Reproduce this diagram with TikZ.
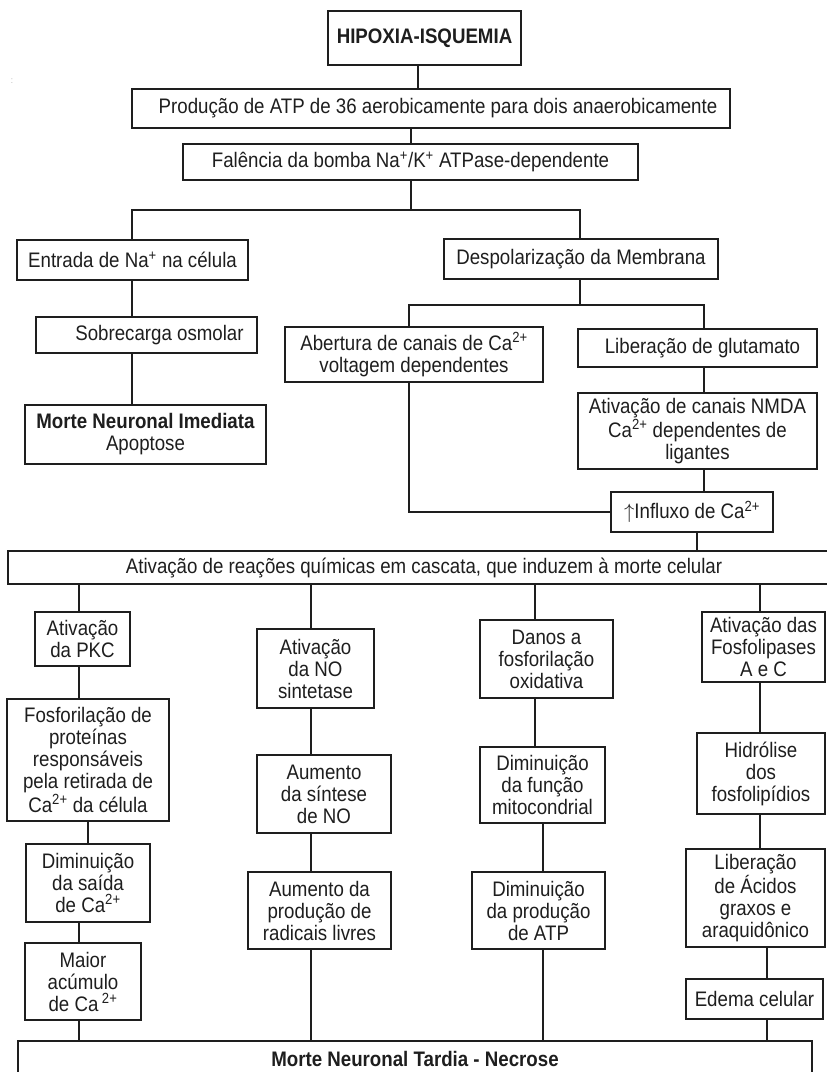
\documentclass[tikz,border=0pt]{standalone}
\usepackage{fontspec}
\setmainfont{Liberation Sans}[FakeStretch=0.89]
\definecolor{ink}{HTML}{1E1E1E}
% box given by its corners: name, x1, y1, x2, y2, text
\newcommand\bx[6]{\node[box, minimum width={(#4-#2)*1pt}, minimum height={(#5-#3)*1pt}] (#1) at ({(#2+#4)/2},{(#3+#5)/2}) {#6};}
\begin{document}
\begin{tikzpicture}[x=1pt,y=-1pt,
  box/.style={draw=ink, line width=1.4pt, inner sep=0pt, outer sep=0pt, align=center,
              text=ink, font=\fontsize{21}{22}\selectfont},
  link/.style={draw=ink, line width=1.2pt}]
\useasboundingbox (0,0) rectangle (827,1072);
\fill[white] (0,0) rectangle (827,1072);

\node[text=black!30, font=\fontsize{9}{9}\selectfont] (mark) at (12,81) {:};

% upper part
\bx{hip}{328}{11}{521}{65}{\textbf{HIPOXIA-ISQUEMIA}}
\bx{prod}{132}{89}{730}{128}{\hspace*{14pt}Produção de ATP de 36 aerobicamente para dois anaerobicamente}
\bx{fal}{183}{144}{638}{180}{Falência da bomba Na\textsuperscript{+}/K\textsuperscript{+} ATPase-dependente}
\bx{ent}{17}{240}{248}{280}{Entrada de Na\textsuperscript{+} na célula}
\bx{desp}{444}{239}{718}{279}{Despolarização da Membrana}
\bx{sob}{36}{317}{257}{353}{\hspace*{26pt}Sobrecarga osmolar}
\bx{mim}{25}{405}{266}{464}{\textbf{Morte Neuronal Imediata}\\Apoptose}
\bx{abe}{285}{327}{543}{382}{Abertura de canais de Ca\textsuperscript{2+}\\voltagem dependentes}
\bx{lib}{578}{329}{817}{367}{\hspace*{10pt}Liberação de glutamato}
\bx{nmda}{578}{393}{817}{469}{Ativação de canais NMDA\\Ca\textsuperscript{2+} dependentes de\\ligantes}
\bx{infl}{611}{492}{773}{532}{$\uparrow$Influxo de Ca\textsuperscript{2+}}
\bx{casc}{8}{551}{840}{584}{Ativação de reações químicas em cascata, que induzem à morte celular}

% four cascades
\bx{pkc}{35}{612}{130}{666}{Ativação\\da PKC}
\bx{fosf}{7}{699}{169}{821}{Fosforilação de\\proteínas\\responsáveis\\pela retirada de\\Ca\textsuperscript{2+} da célula}
\bx{dsai}{26}{844}{150}{922}{Diminuição\\da saída\\de Ca\textsuperscript{2+}}
\bx{mac}{25}{943}{141}{1020}{Maior\\acúmulo\\de Ca\,\textsuperscript{2+}}

\bx{nos}{257}{629}{374}{708}{Ativação\\da NO\\sintetase}
\bx{asin}{257}{755}{391}{833}{Aumento\\da síntese\\de NO}
\bx{arad}{248}{872}{391}{949}{Aumento da\\produção de\\radicais livres}

\bx{dan}{480}{620}{613}{698}{Danos a\\fosforilação\\oxidativa}
\bx{dmit}{480}{747}{605}{823}{Diminuição\\da função\\mitocondrial}
\bx{datp}{472}{872}{605}{949}{Diminuição\\da produção\\de ATP}

\bx{fosl}{702}{612}{825}{682}{Ativação das\\Fosfolipases\\A e C}
\bx{hid}{697}{733}{825}{814}{Hidrólise\\dos\\fosfolipídios}
\bx{lac}{686}{849}{825}{947}{Liberação\\de Ácidos\\graxos e\\araquidônico}
\bx{ede}{686}{979}{823}{1019}{Edema celular}

\bx{tard}{18}{1041}{812}{1077}{\textbf{Morte Neuronal Tardia - Necrose}}

% connector columns and junction rows
\coordinate (xA) at (418,0);
\coordinate (xB) at (411,0);
\coordinate (xL) at (132,0);
\coordinate (xR) at (580,0);
\coordinate (xab) at (409,0);
\coordinate (xlb) at (704,0);
\coordinate (xcs) at (697,0);
\coordinate (k1) at (79,0);
\coordinate (k1b) at (88,0);
\coordinate (k2) at (311,0);
\coordinate (k3) at (535,0);
\coordinate (k3b) at (543,0);
\coordinate (k4) at (760,0);
\coordinate (k4b) at (767,0);
\coordinate (j1) at (0,210);
\coordinate (j2) at (0,305);

\draw[link] (hip.south -| xA) -- (prod.north -| xA);
\draw[link] (prod.south -| xB) -- (fal.north -| xB);
\draw[link] (fal.south -| xB) -- (j1 -| xB);
\draw[link] (ent.north -| xL) -- (j1 -| xL) -- (j1 -| xR) -- (desp.north -| xR);
\draw[link] (ent.south -| xL) -- (sob.north -| xL);
\draw[link] (sob.south -| xL) -- (mim.north -| xL);
\draw[link] (desp.south -| xR) -- (j2 -| xR);
\draw[link] (abe.north -| xab) -- (j2 -| xab) -- (j2 -| xlb) -- (lib.north -| xlb);
\draw[link] (lib.south -| xlb) -- (nmda.north -| xlb);
\draw[link] (nmda.south -| xlb) -- (infl.north -| xlb);
\draw[link] (abe.south -| xab) |- (infl.west);
\draw[link] (infl.south -| xcs) -- (casc.north -| xcs);

\draw[link] (casc.south -| k1) -- (pkc.north -| k1);
\draw[link] (pkc.south -| k1) -- (fosf.north -| k1);
\draw[link] (fosf.south -| k1b) -- (dsai.north -| k1b);
\draw[link] (dsai.south -| k1) -- (mac.north -| k1);
\draw[link] (mac.south -| k1) -- (tard.north -| k1);

\draw[link] (casc.south -| k2) -- (nos.north -| k2);
\draw[link] (nos.south -| k2) -- (asin.north -| k2);
\draw[link] (asin.south -| k2) -- (arad.north -| k2);
\draw[link] (arad.south -| k2) -- (tard.north -| k2);

\draw[link] (casc.south -| k3) -- (dan.north -| k3);
\draw[link] (dan.south -| k3) -- (dmit.north -| k3);
\draw[link] (dmit.south -| k3b) -- (datp.north -| k3b);
\draw[link] (datp.south -| k3b) -- (tard.north -| k3b);

\draw[link] (casc.south -| k4) -- (fosl.north -| k4);
\draw[link] (fosl.south -| k4) -- (hid.north -| k4);
\draw[link] (hid.south -| k4) -- (lac.north -| k4);
\draw[link] (lac.south -| k4b) -- (ede.north -| k4b);
\draw[link] (ede.south -| k4b) -- (tard.north -| k4b);
\end{tikzpicture}
\end{document}
